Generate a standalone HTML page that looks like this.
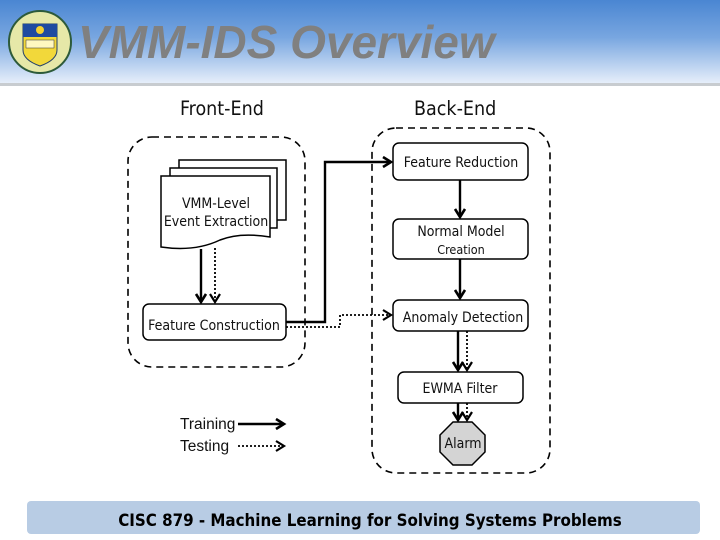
<!DOCTYPE html>
<html><head><meta charset="utf-8"><style>
html,body{margin:0;padding:0;background:#fff;}
svg{display:block;}
</style></head><body>
<svg width="720" height="540" viewBox="0 0 720 540" xmlns="http://www.w3.org/2000/svg" font-family="'DejaVu Sans Condensed','Liberation Sans',sans-serif">
<defs>
<linearGradient id="hdr" x1="0" y1="0" x2="0" y2="1">
<stop offset="0" stop-color="#4a86d2"/><stop offset="0.45" stop-color="#78a6e0"/><stop offset="1" stop-color="#e6eefa"/>
</linearGradient>
<marker id="as" markerWidth="12" markerHeight="12" refX="9" refY="6" orient="auto" markerUnits="userSpaceOnUse">
<path d="M1,1 L9,6 L1,11" fill="none" stroke="#000" stroke-width="2.6"/></marker>
<marker id="ad" markerWidth="12" markerHeight="12" refX="9" refY="6" orient="auto" markerUnits="userSpaceOnUse">
<path d="M1,1 L9,6 L1,11" fill="none" stroke="#000" stroke-width="2.2"/></marker>
</defs>
<rect x="0" y="0" width="720" height="83" fill="url(#hdr)"/>
<rect x="0" y="83" width="720" height="3" fill="#c8ccd0"/>
<circle cx="40" cy="42" r="31" fill="#e6e8a8" stroke="#2d5a3a" stroke-width="2"/>
<path d="M23,24 H57 V50 Q57,60 40,66 Q23,60 23,50 Z" fill="#f2d83a" stroke="#24406a" stroke-width="1"/>
<rect x="23" y="24" width="34" height="13" fill="#1f4aa0"/>
<circle cx="40" cy="30" r="4" fill="#f5d030"/>
<rect x="26" y="40" width="28" height="8" fill="#fff8c0" stroke="#333" stroke-width="0.5"/>
<text x="78" y="58" font-family="'Liberation Sans',sans-serif" font-size="46" font-weight="bold" font-style="italic" fill="#808080">VMM-IDS Overview</text>

<text x="180" y="115" font-size="19.5" fill="#111">Front-End</text>
<text x="414" y="115" font-size="19.5" fill="#111">Back-End</text>

<rect x="128" y="137" width="177" height="230" rx="24" fill="none" stroke="#000" stroke-width="1.6" stroke-dasharray="7,5"/>
<rect x="372" y="128" width="178" height="345" rx="24" fill="none" stroke="#000" stroke-width="1.6" stroke-dasharray="7,5"/>

<rect x="179" y="160" width="107" height="60" fill="#fff" stroke="#000" stroke-width="1.5"/>
<rect x="170" y="168" width="107" height="60" fill="#fff" stroke="#000" stroke-width="1.5"/>
<path d="M161,176 H270 V237 Q240,232 220,240 Q195,252 161,247 Z" fill="#fff" stroke="#000" stroke-width="1.5"/>
<text x="216" y="208" font-size="14" text-anchor="middle" fill="#111">VMM-Level</text>
<text x="216" y="226" font-size="14" text-anchor="middle" fill="#111">Event Extraction</text>

<rect x="143" y="304" width="143" height="36" rx="6" fill="#fff" stroke="#000" stroke-width="1.5"/>
<text x="214" y="330" font-size="14" text-anchor="middle" fill="#111">Feature Construction</text>

<rect x="393" y="143" width="135" height="37" rx="6" fill="#fff" stroke="#000" stroke-width="1.5"/>
<text x="461" y="167" font-size="14" text-anchor="middle" fill="#111">Feature Reduction</text>
<rect x="393" y="219" width="135" height="40" rx="6" fill="#fff" stroke="#000" stroke-width="1.5"/>
<text x="461" y="236" font-size="14" text-anchor="middle" fill="#111">Normal Model</text>
<text x="461" y="254" font-size="12.5" text-anchor="middle" fill="#111">Creation</text>
<rect x="393" y="300" width="135" height="31" rx="6" fill="#fff" stroke="#000" stroke-width="1.5"/>
<text x="463" y="322" font-size="14" text-anchor="middle" fill="#111">Anomaly Detection</text>
<rect x="398" y="372" width="125" height="31" rx="6" fill="#fff" stroke="#000" stroke-width="1.5"/>
<text x="460" y="393" font-size="14" text-anchor="middle" fill="#111">EWMA Filter</text>
<polygon points="453,422 472,422 485,435 485,452 472,465 453,465 440,452 440,435" fill="#d4d4d4" stroke="#000" stroke-width="1.5"/>
<text x="463" y="448" font-size="14" text-anchor="middle" fill="#111">Alarm</text>

<g fill="none" stroke="#000">
<line x1="201" y1="249" x2="201" y2="302" stroke-width="2.4" marker-end="url(#as)"/>
<line x1="215" y1="248" x2="215" y2="302" stroke-width="1.8" stroke-dasharray="2,2" marker-end="url(#ad)"/>
<polyline points="286,322 325,322 325,162 391,162" stroke-width="2.4" marker-end="url(#as)"/>
<polyline points="286,327 340,327 340,315 391,315" stroke-width="1.8" stroke-dasharray="2,2" marker-end="url(#ad)"/>
<line x1="460" y1="180" x2="460" y2="217" stroke-width="2.4" marker-end="url(#as)"/>
<line x1="460" y1="259" x2="460" y2="298" stroke-width="2.4" marker-end="url(#as)"/>
<line x1="458" y1="331" x2="458" y2="370" stroke-width="2.4" marker-end="url(#as)"/>
<line x1="467" y1="331" x2="467" y2="370" stroke-width="1.8" stroke-dasharray="2,2" marker-end="url(#ad)"/>
<line x1="458" y1="403" x2="458" y2="420" stroke-width="2.4" marker-end="url(#as)"/>
<line x1="467" y1="403" x2="467" y2="420" stroke-width="1.8" stroke-dasharray="2,2" marker-end="url(#ad)"/>
<line x1="238" y1="424" x2="284" y2="424" stroke-width="2.4" marker-end="url(#as)"/>
<line x1="238" y1="446" x2="284" y2="446" stroke-width="1.8" stroke-dasharray="2,2" marker-end="url(#ad)"/>
</g>
<text x="180" y="429" font-family="'Liberation Sans',sans-serif" font-size="15.5" fill="#111">Training</text>
<text x="180" y="451" font-family="'Liberation Sans',sans-serif" font-size="15.5" fill="#111">Testing</text>

<rect x="27" y="501" width="673" height="33" rx="4" fill="#b8cce4"/>
<text x="370" y="526" font-size="16.8" font-weight="bold" text-anchor="middle" fill="#000">CISC 879 - Machine Learning for Solving Systems Problems</text>
</svg>
</body></html>
